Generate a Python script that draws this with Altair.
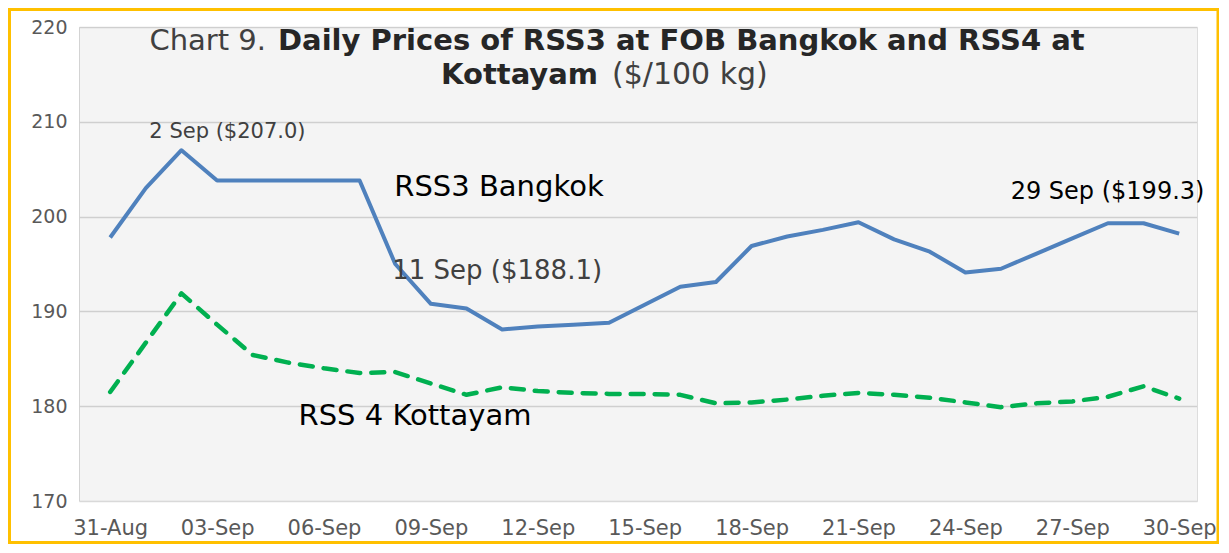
import altair as alt
import pandas as pd

# ---------------- data ----------------
dates = ["2023-08-31", "2023-09-01", "2023-09-02", "2023-09-03", "2023-09-04", "2023-09-05",
         "2023-09-06", "2023-09-07", "2023-09-08", "2023-09-09", "2023-09-10", "2023-09-11",
         "2023-09-12", "2023-09-13", "2023-09-14", "2023-09-15", "2023-09-16", "2023-09-17",
         "2023-09-18", "2023-09-19", "2023-09-20", "2023-09-21", "2023-09-22", "2023-09-23",
         "2023-09-24", "2023-09-25", "2023-09-26", "2023-09-27", "2023-09-28", "2023-09-29",
         "2023-09-30"]
rss3_bangkok = [197.8, 203.0, 207.0, 203.8, 203.8, 203.8, 203.8, 203.8, 195.0, 190.8,
                190.3, 188.1, 188.4, 188.6, 188.8, 190.7, 192.6, 193.1, 196.9, 197.9,
                198.6, 199.4, 197.6, 196.3, 194.1, 194.5, 196.1, 197.7, 199.3, 199.3,
                198.2]
rss4_kottayam = [181.5, 186.7, 191.9, 188.6, 185.4, 184.6, 184.0, 183.5, 183.6, 182.4,
                 181.2, 182.0, 181.6, 181.4, 181.3, 181.3, 181.2, 180.3, 180.4, 180.7,
                 181.1, 181.4, 181.2, 180.9, 180.4, 179.9, 180.3, 180.5, 181.0, 182.1,
                 180.8]
x_tick_dates = ["2023-08-31", "2023-09-03", "2023-09-06", "2023-09-09", "2023-09-12",
                "2023-09-15", "2023-09-18", "2023-09-21", "2023-09-24", "2023-09-27",
                "2023-09-30"]
x_domain = ["2023-08-30T03:00:00", "2023-09-30T12:00:00"]
y_ticks = [170, 180, 190, 200, 210, 220]

note_dates = ["2023-09-02", "2023-09-11", "2023-09-29"]
note_values = [207.0, 188.1, 199.3]
note_texts = ["2 Sep ($207.0)", "11 Sep ($188.1)", "29 Sep ($199.3)"]

title_regular_1 = "Chart 9."
title_bold_1 = "Daily Prices of RSS3 at FOB Bangkok and RSS4 at"
title_bold_2 = "Kottayam"
title_regular_2 = "($/100 kg)"
series_label_1 = "RSS3 Bangkok"
series_label_2 = "RSS 4 Kottayam"

# ---------------- layout ----------------
W, H = 1118, 474
FONT = "DejaVu Sans"


def ms(d):
    return int(pd.Timestamp(d, tz="UTC").value // 10**6)


df = pd.DataFrame({"date": dates, "rss3": rss3_bangkok, "rss4": rss4_kottayam})
notes = pd.DataFrame({"date": note_dates, "value": note_values, "text": note_texts})
one = pd.DataFrame({"k": [0]})

xscale = alt.Scale(type="utc", domain=[ms(x_domain[0]), ms(x_domain[1])])
yscale = alt.Scale(domain=[170, 220])

xaxis = alt.Axis(values=[ms(d) for d in x_tick_dates], format="%d-%b", title=None,
                 grid=False, domain=False, ticks=False, labelFont=FONT, labelFontSize=21,
                 labelColor="#595959", labelPadding=16, labelFlush=False)
yaxis = alt.Axis(values=y_ticks, title=None, grid=True, gridColor="#d9d9d9", gridWidth=1.5,
                 domain=False, ticks=False, labelFont=FONT, labelFontSize=19,
                 labelColor="#595959", labelPadding=12)

border = alt.Chart(one).mark_rect(fill="transparent", stroke="#FFC000", strokeWidth=3).encode(
    x=alt.value(-69.5), x2=alt.value(W + 21), y=alt.value(-17.5), y2=alt.value(H + 41.5))

# light shaded plot background (stands in for the fine diagonal hatch)
hatch = alt.Chart(one).mark_rect(fill="rgba(0,0,0,0.045)").encode(
    x=alt.value(0), x2=alt.value("width"), y=alt.value(0), y2=alt.value("height"))

base = alt.Chart(df)
line3 = base.mark_line(color="#4F81BD", strokeWidth=4, strokeJoin="round").encode(
    x=alt.X("date:T", scale=xscale, axis=xaxis),
    y=alt.Y("rss3:Q", scale=yscale, axis=yaxis))
line4 = base.mark_line(color="#00B050", strokeWidth=4.5, strokeDash=[13, 11],
                       strokeCap="round", strokeJoin="round").encode(
    x=alt.X("date:T", scale=xscale),
    y=alt.Y("rss4:Q", scale=yscale))


def note(i, dx, dy, size, color):
    return alt.Chart(notes.iloc[[i]]).mark_text(
        font=FONT, fontSize=size, color=color, dx=dx, dy=dy, align="center",
        baseline="middle").encode(
        x=alt.X("date:T", scale=xscale), y=alt.Y("value:Q", scale=yscale), text="text:N")


n1 = note(0, 46, -18, 21, "#404040")
n2 = note(1, -5, -58, 26, "#404040")
n3 = note(2, -36, -31, 24, "#000000")


def label(txt, x, y, size, color, weight="normal", align="center", baseline="middle"):
    return alt.Chart(one).mark_text(
        text=txt, font=FONT, fontSize=size, color=color, fontWeight=weight,
        align=align, baseline=baseline).encode(x=alt.value(x), y=alt.value(y))


s1 = label(series_label_1, 420, 160, 29, "#000000")
s2 = label(series_label_2, 336, 389, 29, "#000000")
t1 = label(title_regular_1, 187, 23, 29, "#404040", align="right", baseline="alphabetic")
t2 = label(title_bold_1, 199, 23, 29, "#262626", weight="bold", align="left",
           baseline="alphabetic")
t3 = label(title_bold_2, 519, 57, 29, "#262626", weight="bold", align="right",
           baseline="alphabetic")
t4 = label(title_regular_2, 533, 57, 30, "#404040", align="left", baseline="alphabetic")

chart = alt.layer(border, hatch, line4, line3, n1, n2, n3, s1, s2, t1, t2, t3, t4).properties(
    width=W, height=H,
    autosize=alt.AutoSizeParams(type="none"),
    padding={"left": 71, "top": 19, "right": 22, "bottom": 43},
).configure_view(stroke=None).configure(background="white")

chart.save("out.html", embed_options={"renderer": "svg", "actions": False})
